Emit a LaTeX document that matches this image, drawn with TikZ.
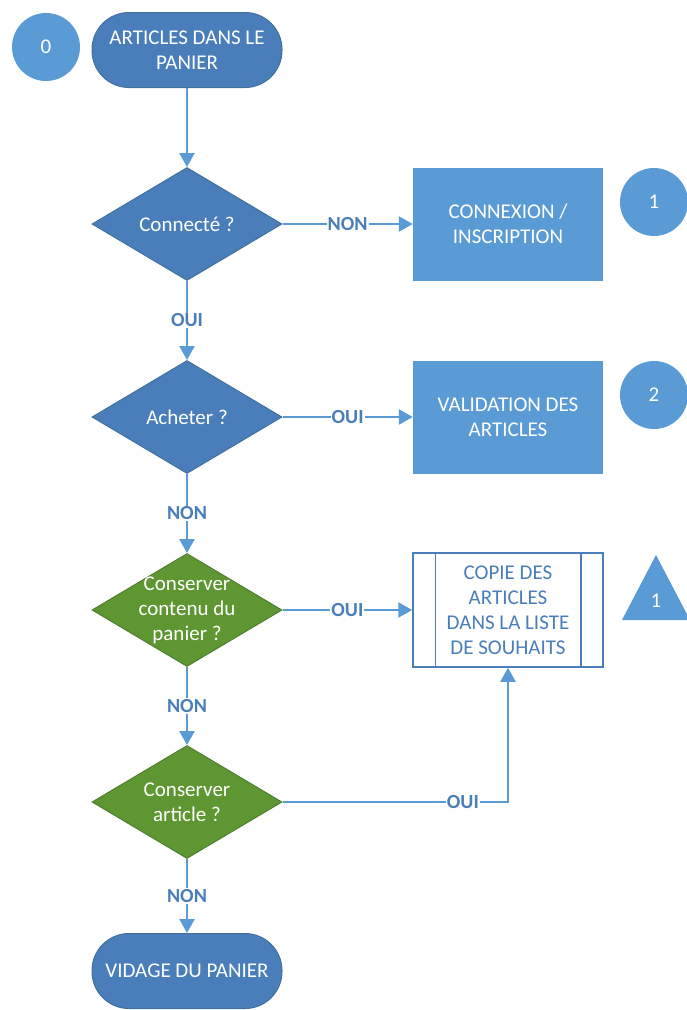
\documentclass[tikz,border=0pt]{standalone}
\usepackage{fontspec}
\setmainfont{Carlito}
\usetikzlibrary{shapes.geometric,arrows.meta,positioning}
\definecolor{dblue}{HTML}{4A7EBB}
\definecolor{dborder}{HTML}{41719C}
\definecolor{lblue}{HTML}{5B9BD5}
\definecolor{gfill}{HTML}{5E9732}
\definecolor{gborder}{HTML}{507E32}
\definecolor{lbl}{HTML}{4A7EBB}
\tikzset{
  base/.style={font=\fontsize{21}{25}\selectfont, text=white, align=center, inner sep=0pt},
  term/.style={base, rectangle, rounded corners=37pt, fill=dblue, draw=dborder, line width=1pt, minimum width=190pt, minimum height=75pt},
  dec/.style={base, diamond, aspect=1.68, fill=dblue, draw=dborder, line width=1pt, minimum width=190pt, minimum height=113pt},
  gdec/.style={dec, fill=gfill, draw=gborder, inner sep=-10pt},
  proc/.style={base, rectangle, fill=lblue, minimum width=190pt, minimum height=113pt},
  pred/.style={base, rectangle, fill=white, draw=dblue, line width=1.5pt, text=lbl, minimum width=190pt, minimum height=114pt},
  num/.style={base, circle, fill=lblue, minimum size=68pt},
  conn/.style={draw=lblue, line width=2.5pt, -{Triangle[width=15pt,length=14pt]}},
  lab/.style={font=\bfseries\fontsize{20}{22}\selectfont, text=lbl, fill=white, inner sep=1pt}
}
\begin{document}
\begin{tikzpicture}[x=1pt,y=-1pt]
\useasboundingbox (0,0) rectangle (687,1010);
\node[num] (c0) at (46,47) {0};
\node[term] (start) at (187,50) {ARTICLES DANS LE\\PANIER};
\node[dec] (d1) at (187,224) {Connecté ?};
\node[proc] (cx) at (508,224) {CONNEXION /\\INSCRIPTION};
\node[num] (c1) at (654,202) {1};
\node[dec] (d2) at (187,417) {Acheter ?};
\node[proc] (val) at (508,417) {VALIDATION DES\\ARTICLES};
\node[num] (c2) at (654,395) {2};
\node[gdec] (d3) at (187,610) {Conserver\\contenu du\\panier ?};
\node[pred] (copy) at (508,610) {COPIE DES\\ARTICLES\\DANS LA LISTE\\DE SOUHAITS};
\draw[dblue, line width=1.5pt] ([xshift=23pt]copy.north west) -- ([xshift=23pt]copy.south west);
\draw[dblue, line width=1.5pt] ([xshift=-23pt]copy.north east) -- ([xshift=-23pt]copy.south east);
\coordinate (tA) at (656,555);
\coordinate (tL) at (622,620);
\coordinate (tR) at (690,620);
\fill[lblue] (tA) -- (tL) -- (tR) -- cycle;
\node[base] (t1) at (656,601) {1};
\node[gdec] (d4) at (187,802) {Conserver\\article ?};
\node[term] (end) at (187,971) {VIDAGE DU PANIER};
\draw[conn] (start) -- (d1);
\draw[conn] (d1.east) -- node[lab]{NON} (cx.west);
\draw[conn] (d1.south) -- node[lab]{OUI} (d2.north);
\draw[conn] (d2.east) -- node[lab]{OUI} (val.west);
\draw[conn] (d2.south) -- node[lab]{NON} (d3.north);
\draw[conn] (d3.east) -- node[lab]{OUI} (copy.west);
\draw[conn] (d3.south) -- node[lab]{NON} (d4.north);
\draw[conn] (d4.east) -| node[lab, pos=0.4]{OUI} (copy.south);
\draw[conn] (d4.south) -- node[lab]{NON} (end.north);
\end{tikzpicture}
\end{document}
